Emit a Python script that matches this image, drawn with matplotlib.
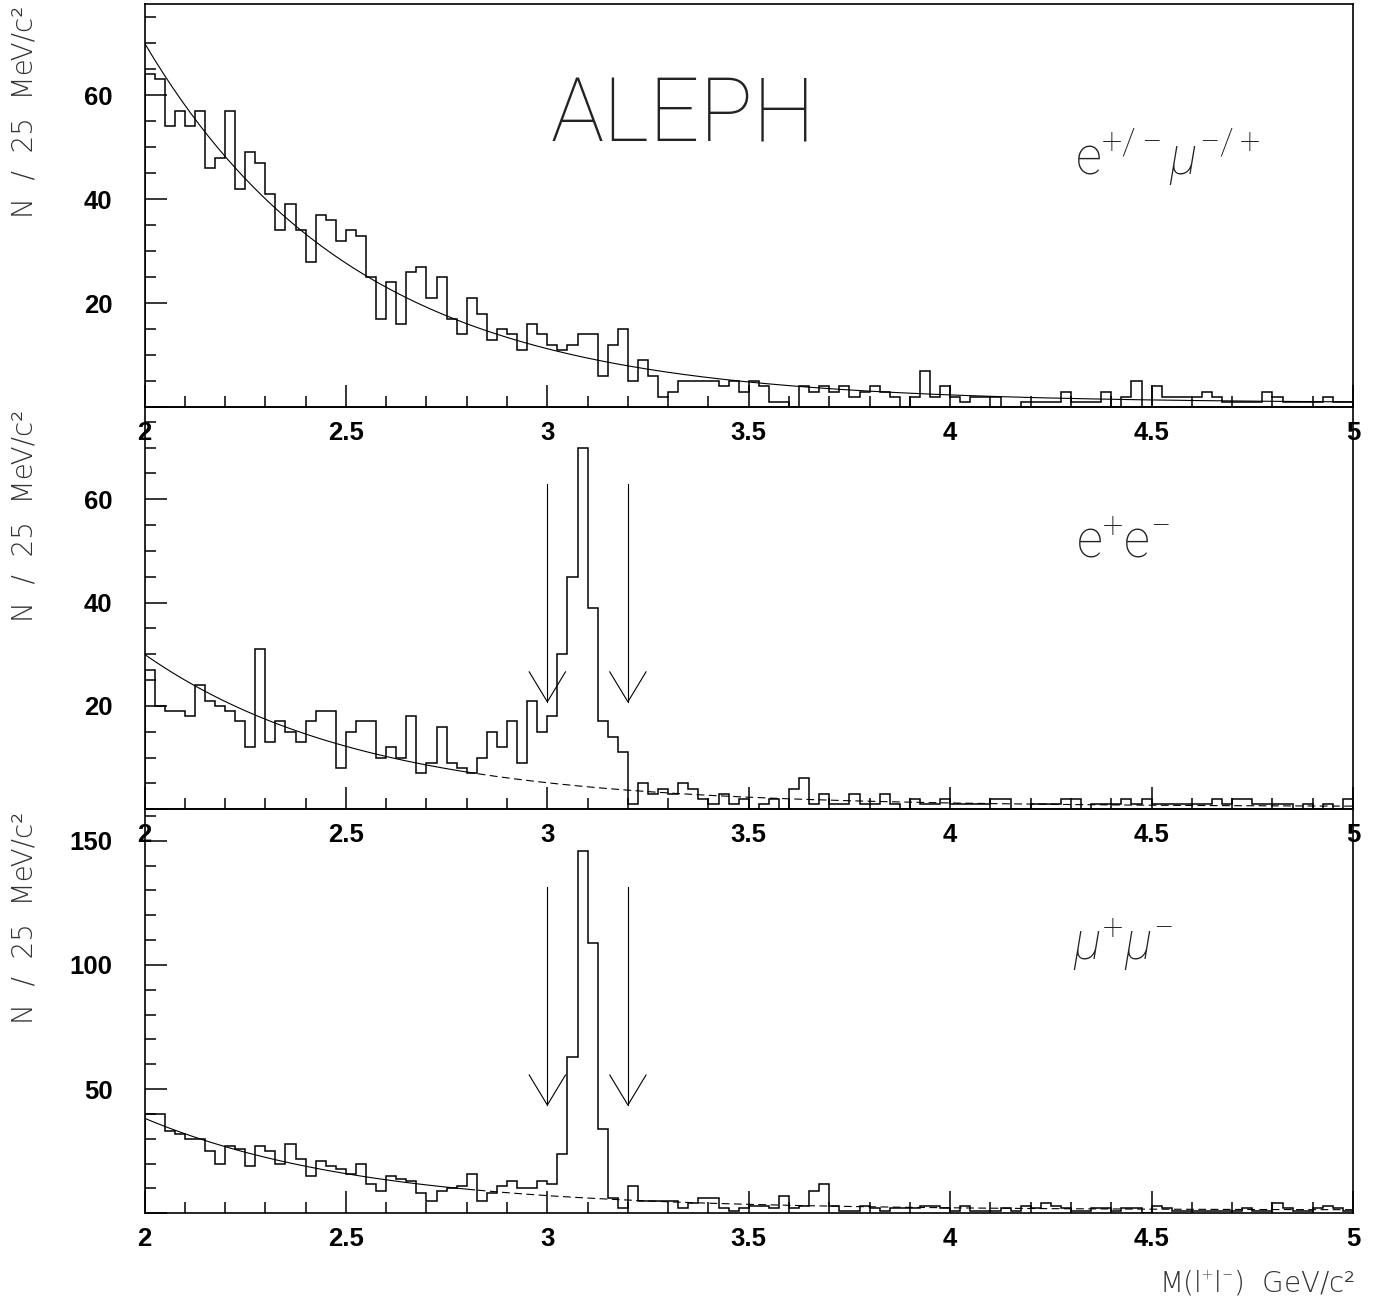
import numpy as np
import matplotlib
matplotlib.use("Agg")
import matplotlib.pyplot as plt
from matplotlib.ticker import MultipleLocator, FuncFormatter

plt.rcParams['font.family'] = ['Liberation Sans', 'DejaVu Sans']
plt.rcParams['font.weight'] = 'bold'
plt.rcParams['mathtext.fontset'] = 'custom'
plt.rcParams['mathtext.rm'] = 'Roboto:light'
plt.rcParams['mathtext.it'] = 'Roboto:italic:light'

# 25 MeV bins from 2 to 5 GeV/c^2
x_lo, x_hi, n_bins = 2.0, 5.0, 120

# e+/- mu-/+ (no J/psi expected)
counts_emu = [64, 63, 54, 57, 54, 57, 46, 48, 57, 42,
              49, 47, 41, 34, 39, 34, 28, 37, 36, 32,
              34, 33, 25, 17, 24, 16, 26, 27, 21, 25,
              17, 14, 21, 18, 13, 15, 14, 11, 16, 14,
              12, 11, 12, 14, 14, 6, 12, 15, 5, 9,
              6, 2, 3, 5, 5, 5, 5, 4, 5, 3,
              5, 4, 1, 1, 0, 4, 3, 4, 3, 4,
              2, 3, 4, 3, 2, 0, 2, 7, 2, 4,
              2, 1, 2, 2, 2, 0, 0, 1, 1, 1,
              1, 3, 1, 1, 1, 3, 0, 2, 5, 0,
              4, 2, 2, 2, 2, 3, 2, 1, 1, 1,
              1, 3, 2, 1, 1, 1, 1, 2, 1, 1]

# e+ e-
counts_ee = [27, 20, 19, 19, 18, 24, 21, 20, 19, 17,
             12, 31, 13, 17, 15, 13, 17, 19, 19, 8,
             15, 17, 17, 10, 12, 10, 18, 7, 9, 16,
             9, 8, 7, 10, 15, 12, 17, 9, 21, 15,
             18, 30, 45, 70, 39, 17, 14, 11, 1, 5,
             3, 4, 3, 5, 4, 2, 1, 3, 1, 2,
             0, 1, 2, 0, 4, 6, 1, 3, 1, 1,
             3, 1, 1, 3, 1, 0, 2, 1, 1, 2,
             1, 1, 1, 1, 2, 2, 0, 0, 1, 1,
             1, 2, 2, 0, 1, 1, 1, 2, 1, 2,
             1, 1, 1, 1, 1, 1, 2, 1, 2, 2,
             1, 1, 1, 1, 0, 1, 0, 1, 0, 2]

# mu+ mu-
counts_mumu = [40, 40, 33, 32, 30, 30, 25, 20, 27, 26,
               19, 27, 25, 20, 28, 22, 15, 21, 19, 18,
               16, 20, 12, 9, 15, 14, 13, 8, 5, 9,
               10, 11, 16, 5, 8, 11, 13, 10, 10, 13,
               12, 24, 63, 146, 109, 34, 6, 2, 11, 5,
               5, 5, 5, 2, 4, 6, 6, 2, 1, 2,
               3, 3, 2, 7, 2, 3, 9, 12, 3, 1,
               1, 3, 2, 1, 2, 2, 2, 3, 3, 2,
               1, 3, 1, 1, 1, 2, 1, 3, 2, 4,
               3, 2, 1, 1, 2, 2, 1, 2, 2, 0,
               3, 2, 1, 1, 1, 1, 1, 1, 1, 2,
               1, 1, 4, 2, 1, 1, 2, 3, 2, 1]

# background fits: A*exp(-k*(M-2)) + C
fit_emu = (69.2, 1.89, 0.8)
fit_ee = (29.5, 1.85, 0.5)
fit_mumu = (37.0, 1.85, 1.3)
fit_end = 2.825   # fitted region ends here, dashed beyond

# J/psi mass window cuts and arrow extents (top, tip, head)
cuts = [3.0, 3.2]
arrow_ee = (62.9, 20.8, 26.6)
arrow_mumu = (131.3, 43.6, 55.7)

ymax = [77.5, 77.8, 162.7]
y_major = [20, 20, 50]
y_minor = [5, 5, 10]
channel_labels = [r'$\mathrm{e}^{+/-}\mu^{-/+}$', r'$\mathrm{e}^{+}\mathrm{e}^{-}$', r'$\mu^{+}\mu^{-}$']
y_title = 'N  /  25  MeV/c²'
x_title = r'M(l$^{+}$l$^{-}$)  GeV/c²'

W_PX, H_PX = 1375, 1308
fig = plt.figure(figsize=(W_PX / 100, H_PX / 100), dpi=100)

left_px, right_px = 144.5, 1353
tops = [4, 407.3, 809.3]
bots = [407.3, 809.3, 1213.3]
label_pos = [(0.770, 0.576), (0.771, 0.628), (0.768, 0.627)]

edges = np.linspace(x_lo, x_hi, n_bins + 1)
xs = np.linspace(x_lo, x_hi, 400)

thin = dict(family='DejaVu Sans', weight='light', color='#333333')

data = [counts_emu, counts_ee, counts_mumu]
fits = [fit_emu, fit_ee, fit_mumu]
arrows = [None, arrow_ee, arrow_mumu]

for i in range(3):
    ax = fig.add_axes([left_px / W_PX, 1 - bots[i] / H_PX,
                       (right_px - left_px) / W_PX, (bots[i] - tops[i]) / H_PX])
    ax.set_facecolor('none')
    ax.stairs(data[i], edges, color='k', lw=1.1)

    A, k, C = fits[i]
    f = A * np.exp(-k * (xs - 2)) + C
    if i == 0:
        ax.plot(xs, f, color='k', lw=0.8)
    else:
        m = xs <= fit_end
        ax.plot(xs[m], f[m], color='k', lw=0.8)
        ax.plot(xs[~m], f[~m], color='k', lw=0.8, dashes=(7, 4))

    if arrows[i] is not None:
        top, tip, head = arrows[i]
        hw = 0.045
        for c in cuts:
            ax.plot([c, c], [top, tip], color='k', lw=0.8)
            ax.plot([c - hw, c, c + hw], [head, tip, head], color='k', lw=0.8)

    ax.set_xlim(x_lo, x_hi)
    ax.set_ylim(0, ymax[i])
    ax.xaxis.set_major_locator(MultipleLocator(0.5))
    ax.xaxis.set_minor_locator(MultipleLocator(0.1))
    ax.yaxis.set_major_locator(MultipleLocator(y_major[i]))
    ax.yaxis.set_minor_locator(MultipleLocator(y_minor[i]))
    ax.xaxis.set_major_formatter(FuncFormatter(lambda v, p: '%g' % v))
    ax.yaxis.set_major_formatter(FuncFormatter(lambda v, p: '' if v == 0 else '%g' % v))
    ax.tick_params(which='both', direction='in', top=False, right=False, width=1.1)
    ax.tick_params(which='major', length=16, labelsize=18.5)
    ax.tick_params(which='minor', length=8)
    ax.tick_params(axis='x', pad=10)
    ax.tick_params(axis='y', pad=23)
    for s in ax.spines.values():
        s.set_linewidth(1.2)

    ax.text(-0.0873, 0.995, y_title, transform=ax.transAxes,
            rotation=90, ha='right', va='top', fontsize=20, **thin)
    lx, ly = label_pos[i]
    ax.text(lx, ly, channel_labels[i], transform=ax.transAxes,
            ha='left', va='baseline', fontsize=37, color='#222222')
    if i == 0:
        ax.text(0.4456, 0.658, 'ALEPH', transform=ax.transAxes, ha='center',
                va='baseline', fontsize=64, family='Roboto', weight=100, color='#222222')

fig.text(1355 / W_PX, 1 - 1292 / H_PX, x_title,
         ha='right', va='baseline', fontsize=20, **thin)

fig.savefig('out.png', dpi=100)
